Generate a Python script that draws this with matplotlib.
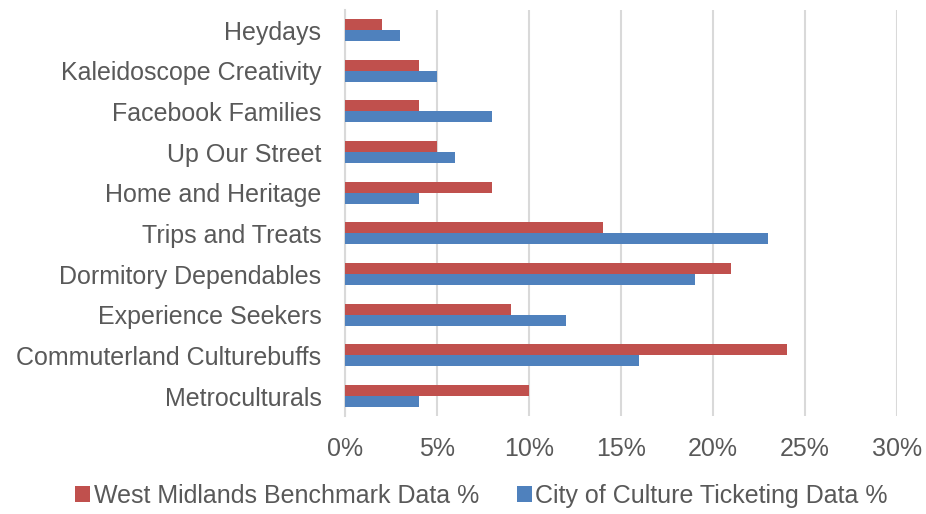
import matplotlib.pyplot as plt
import numpy as np

cats = ['Heydays', 'Kaleidoscope Creativity', 'Facebook Families', 'Up Our Street',
        'Home and Heritage', 'Trips and Treats', 'Dormitory Dependables',
        'Experience Seekers', 'Commuterland Culturebuffs', 'Metroculturals']
west_mid = [2, 4, 4, 5, 8, 14, 21, 9, 24, 10]
city_cult = [3, 5, 8, 6, 4, 23, 19, 12, 16, 4]

plt.rcParams['font.family'] = ['Liberation Sans', 'DejaVu Sans']
grey = '#595959'

fig = plt.figure(figsize=(9.26, 5.14), dpi=100)
ax = fig.add_axes([0.3726, 0.19, 0.5961, 0.791])

y = np.arange(len(cats))
h = 0.27
ax.barh(y - h / 2, west_mid, height=h, color='#C0504D', label='West Midlands Benchmark Data %', zorder=3)
ax.barh(y + h / 2, city_cult, height=h, color='#4F81BD', label='City of Culture Ticketing Data %', zorder=3)

ax.set_ylim(len(cats) - 0.5, -0.5)
ax.set_xlim(0, 30)
ax.set_xticks(range(0, 31, 5))
ax.set_xticklabels([f'{v}%' for v in range(0, 31, 5)])
ax.set_yticks(y)
ax.set_yticklabels(cats)
ax.tick_params(axis='both', length=0, labelsize=18, colors=grey)
ax.tick_params(axis='y', pad=17)
ax.tick_params(axis='x', pad=15)
ax.grid(axis='x', color='#D9D9D9', linewidth=1.5, zorder=0)
for s in ['top', 'right', 'bottom']:
    ax.spines[s].set_visible(False)
ax.spines['left'].set_color('#D9D9D9')
ax.spines['left'].set_linewidth(1.5)

fig.legend(loc='lower center', bbox_to_anchor=(0.52, -0.012), ncol=2, frameon=False,
           fontsize=18, labelcolor=grey, handlelength=0.6, handleheight=0.6,
           handletextpad=0.15, columnspacing=1.5, borderpad=0.0)

fig.savefig('out.png', dpi=100)
